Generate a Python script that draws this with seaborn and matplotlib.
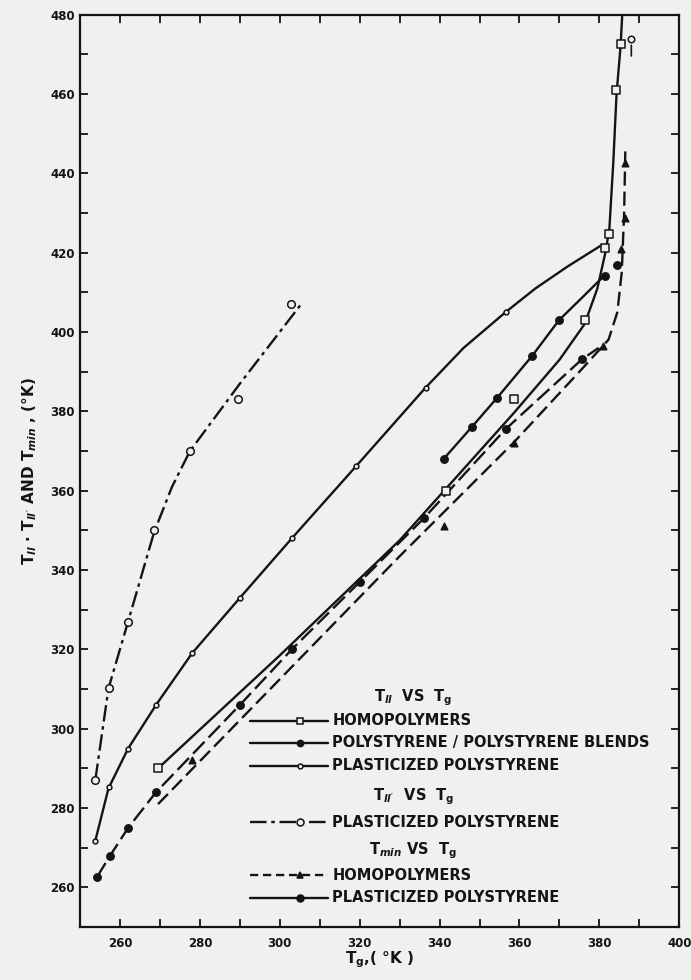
import numpy as np
import pandas as pd
import matplotlib
matplotlib.use("Agg")
import matplotlib.pyplot as plt
from matplotlib.ticker import MultipleLocator
import seaborn as sns

# values (Tg in K, T in K)

# T_ll' vs Tg, plasticized polystyrene (dash-dot, open circles)
llp_pts_tg = [253.8, 257.1, 262.0, 268.5, 277.5, 289.5, 302.8]
llp_pts_t = [287.1, 310.2, 327.0, 350.0, 370.0, 383.0, 407.0]
llp_crv_tg = [253.8, 257.1, 262.0, 268.5, 273.0, 277.5, 290.0, 305.7]
llp_crv_t = [287.1, 310.2, 327.0, 349.5, 361.0, 370.0, 387.0, 407.5]

# T_ll vs Tg, plasticized polystyrene (solid, small open circles)
pl_pts_tg = [253.8, 257.1, 262.0, 269.0, 278.0, 290.0, 303.0, 319.1, 336.5, 356.5, 381.5]
pl_pts_t = [271.8, 285.2, 295.0, 306.0, 319.0, 333.0, 348.0, 366.2, 386.0, 405.0, 421.2]
pl_crv_tg = [253.8, 257.1, 262.0, 269.0, 278.0, 290.0, 303.0, 319.1, 336.5, 346.0,
             356.5, 364.0, 372.0, 380.7]
pl_crv_t = [271.8, 285.0, 295.0, 306.0, 319.0, 333.0, 348.0, 366.2, 386.0, 396.0,
            405.0, 411.0, 416.5, 422.0]

# T_ll vs Tg, homopolymers (solid, open squares)
ho_pts_tg = [269.5, 341.5, 358.5, 376.3, 381.5, 382.3, 384.2, 385.5]
ho_pts_t = [290.0, 360.0, 383.0, 403.0, 421.2, 424.8, 461.1, 472.6]
ho_crv_tg = [269.5, 300.0, 330.0, 358.5, 370.0, 376.3, 379.5, 381.5, 382.5, 383.5, 384.3, 385.3, 385.7]
ho_crv_t = [290.0, 318.5, 347.5, 379.5, 393.0, 402.0, 411.0, 420.0, 426.0, 443.0, 460.0, 472.0, 479.5]

# T_ll vs Tg, polystyrene / polystyrene blends (solid, filled circles)
bl_pts_tg = [341.0, 348.0, 354.3, 363.1, 369.9, 381.5]
bl_pts_t = [368.0, 376.0, 383.3, 393.9, 403.0, 414.1]
bl_crv_tg = [341.0, 348.0, 354.3, 363.1, 369.9, 376.0, 381.0]
bl_crv_t = [368.0, 376.0, 383.3, 393.9, 403.0, 409.0, 414.0]

# T_min vs Tg, homopolymers (dashed, filled triangles)
mh_pts_tg = [278.0, 341.0, 358.5, 380.8, 385.3, 386.3, 386.5]
mh_pts_t = [292.0, 351.0, 372.1, 396.4, 421.0, 428.8, 442.6]
mh_crv_tg = [269.5, 300.0, 330.0, 358.5, 375.0, 380.8, 382.3, 384.5, 385.6, 386.2, 386.5]
mh_crv_t = [281.0, 312.5, 343.5, 372.1, 390.0, 396.4, 398.1, 405.0, 415.0, 430.0, 446.0]

# T_min vs Tg, plasticized polystyrene (filled circles)
mp_pts_tg = [254.2, 257.5, 262.0, 269.0, 290.0, 303.0, 320.0, 336.0, 356.5, 375.6, 384.4]
mp_pts_t = [262.6, 268.0, 275.0, 284.0, 306.0, 320.0, 337.0, 353.0, 375.5, 393.1, 417.0]
mp_crv_tg = [254.2, 257.5, 262.0, 269.0, 290.0, 303.0, 320.0, 336.0, 356.5, 375.6, 379.8]
mp_crv_t = [262.6, 268.0, 275.0, 284.0, 306.0, 320.0, 337.0, 353.0, 375.5, 393.1, 396.0]

# open point with upward arrow, top right
up_tg = [388.0]
up_t = [473.9]

paper = "#f0f0ee"
ink = "#141414"

sns.set_style("ticks")
plt.rcParams["font.family"] = ["DejaVu Sans"]
plt.rcParams["font.weight"] = "bold"
plt.rcParams["mathtext.fontset"] = "custom"
plt.rcParams["mathtext.rm"] = "DejaVu Sans:bold"
plt.rcParams["mathtext.it"] = "DejaVu Sans:italic:bold"
plt.rcParams["mathtext.bf"] = "DejaVu Sans:bold"
plt.rcParams["mathtext.default"] = "rm"

fig = plt.figure(figsize=(6.91, 9.8), dpi=100, facecolor=paper)
ax = fig.add_axes([0.116, 0.054, 0.867, 0.931], facecolor=paper)

lw = 1.7


def curve(xs, ys, **kw):
    d = pd.DataFrame({"tg": xs, "t": ys})
    sns.lineplot(data=d, x="tg", y="t", sort=False, estimator=None, ax=ax,
                 color=ink, lw=lw, **kw)


def points(xs, ys, marker, size, filled):
    d = pd.DataFrame({"tg": xs, "t": ys})
    sns.scatterplot(data=d, x="tg", y="t", ax=ax, marker=marker, s=size,
                    facecolor=ink if filled else paper, edgecolor=ink,
                    linewidth=1.1, zorder=5)


curve(llp_crv_tg, llp_crv_t)
ax.lines[-1].set_dashes([7, 2, 1.5, 2])
curve(pl_crv_tg, pl_crv_t)
curve(ho_crv_tg, ho_crv_t)
curve(bl_crv_tg, bl_crv_t)
curve(mh_crv_tg, mh_crv_t)
ax.lines[-1].set_dashes([6, 2.5])
curve(mp_crv_tg, mp_crv_t)
ax.lines[-1].set_dashes([7, 2.5])

points(llp_pts_tg, llp_pts_t, "o", 30, False)
points(pl_pts_tg, pl_pts_t, "o", 12, False)
points(ho_pts_tg, ho_pts_t, "s", 34, False)
points(bl_pts_tg, bl_pts_t, "o", 28, True)
points(mh_pts_tg, mh_pts_t, "^", 22, True)
points(mp_pts_tg, mp_pts_t, "o", 28, True)
points(up_tg, up_t, "o", 22, False)
ax.annotate("", xy=(up_tg[0], up_t[0] - 0.9), xytext=(up_tg[0], up_t[0] - 5),
            arrowprops=dict(arrowstyle="-", color=ink, lw=1.2))

ax.set_xlim(250, 400)
ax.set_ylim(250, 480)
ax.xaxis.set_major_locator(MultipleLocator(20))
ax.xaxis.set_minor_locator(MultipleLocator(10))
ax.yaxis.set_major_locator(MultipleLocator(20))
ax.yaxis.set_minor_locator(MultipleLocator(10))
ax.tick_params(which="both", direction="in", top=True, right=True,
               length=6, width=1.3, color=ink, labelsize=8.5, labelcolor=ink)
ax.tick_params(axis="x", pad=7)
ax.tick_params(axis="y", pad=4)
for s in ax.spines.values():
    s.set_linewidth(1.6)
    s.set_color(ink)

ax.set_xlabel(r"$T_g$,( °K )", fontsize=11, fontweight="bold", color=ink, labelpad=0)
ax.set_ylabel(r"$T_{\mathit{ll}}$ · $T_{\mathit{ll}^{\prime}}$ AND $T_{\mathit{min}}$ , (°K)",
              fontsize=11, fontweight="bold", color=ink, labelpad=8)

# legend drawn by hand to keep the original grouped layout
tr = ax.transAxes
x0, x1, xm, xt = 0.284, 0.414, 0.367, 0.421
hx = 0.556
fs = 10.5
headers = [(0.251, r"$T_{\mathit{ll}}$  VS  $T_g$"),
           (0.143, r"$T_{\mathit{ll}^{\prime}}$  VS  $T_g$"),
           (0.084, r"$T_{\mathit{min}}$ VS  $T_g$")]
for y, s in headers:
    ax.text(hx, y, s, transform=tr, ha="center", va="center", fontsize=fs, color=ink)

rows = [
    (0.226, "HOMOPOLYMERS", "s", False, None, 5),
    (0.202, "POLYSTYRENE / POLYSTYRENE BLENDS", "o", True, None, 4.5),
    (0.177, "PLASTICIZED POLYSTYRENE", "o", False, None, 3.5),
    (0.115, "PLASTICIZED POLYSTYRENE", "o", False, [7, 2, 1.5, 2], 5),
    (0.057, "HOMOPOLYMERS", "^", True, [3.5, 2], 4),
    (0.032, "PLASTICIZED POLYSTYRENE", "o", True, None, 5),
]
for y, label, mk, filled, dash, ms in rows:
    ln, = ax.plot([x0, x1], [y, y], transform=tr, color=ink, lw=lw, clip_on=False)
    if dash:
        ln.set_dashes(dash)
    ax.plot([xm], [y], transform=tr, marker=mk, ms=ms, color=ink,
            mfc=ink if filled else paper, mec=ink, mew=1.1, clip_on=False)
    ax.text(xt, y, label, transform=tr, ha="left", va="center", fontsize=fs, color=ink)

fig.savefig("out.png", dpi=100, facecolor=paper)
